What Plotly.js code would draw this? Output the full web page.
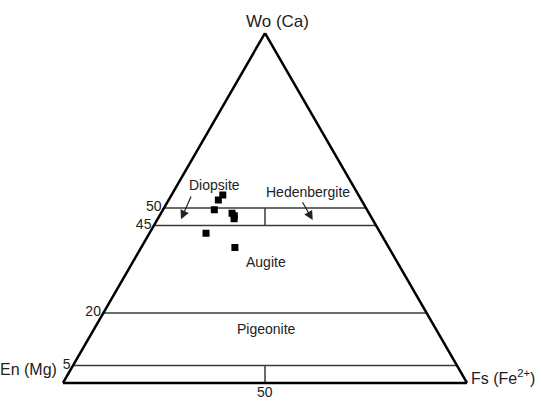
<!DOCTYPE html>
<html><head><meta charset="utf-8">
<script src="https://cdn.plot.ly/plotly-3.0.1.min.js"></script>
<style>html,body{margin:0;padding:0;background:#fff}</style>
</head><body><div id="chart" style="width:541px;height:402px"></div>
<script>
// Sample compositions (mol %)
const woValues = [53.7, 52.3, 49.5, 48.5, 47.8, 46.9, 42.8, 38.7];
const enValues = [33.6, 35.4, 37.8, 33.9, 33.7, 34.2, 43.2, 38.1];
const fsValues = [12.7, 12.3, 12.7, 17.6, 18.5, 18.9, 14.0, 23.2];
// Field boundaries (Wo %)
const boundaryWo = [50, 45, 20, 5];
const woTickVals = [5, 20, 45, 50];
const enTickLabel = "50";
const fieldNames = ["Diopsite", "Hedenbergite", "Augite", "Pigeonite"];
const cornerNames = ["Wo (Ca)", "En (Mg)", "Fs (Fe<sup>2+</sup>)"];

const W = 541, H = 402;
const px = x => x / W;
const py = y => 1 - y / H;

const lineStyle = {color: '#3a3a3a', width: 1.5};
const traces = [];
boundaryWo.forEach(w => {
  traces.push({type: 'scatterternary', mode: 'lines', a: [w, w], b: [100 - w, 0], c: [0, 100 - w],
    line: lineStyle, hoverinfo: 'skip', showlegend: false});
});
// Diopside / Hedenbergite divider (En = Fs) between Wo 45 and 50
traces.push({type: 'scatterternary', mode: 'lines', a: [50, 45], b: [25, 27.5], c: [25, 27.5],
  line: lineStyle, hoverinfo: 'skip', showlegend: false});
// bottom divider below Wo 5
traces.push({type: 'scatterternary', mode: 'lines', a: [5, 0], b: [47.5, 50], c: [47.5, 50],
  line: lineStyle, hoverinfo: 'skip', showlegend: false});
// samples
traces.push({type: 'scatterternary', mode: 'markers', a: woValues, b: enValues, c: fsValues,
  marker: {symbol: 'square', size: 7, color: '#000'}, showlegend: false});

const font = {family: 'Liberation Sans, Arial, sans-serif', color: '#222'};
const f = s => Object.assign({size: s}, font);
const axisCommon = {showgrid: false, linecolor: '#000', linewidth: 2.5, ticks: '',
  tickfont: f(14), title: {text: ''}};

const layout = {
  width: W, height: H,
  margin: {l: 0, r: 0, t: 0, b: 0},
  paper_bgcolor: '#fff',
  font: font,
  showlegend: false,
  ternary: {
    sum: 100,
    bgcolor: '#fff',
    domain: {x: [63 / W, 467 / W], y: [19 / H, 369 / H]},
    aaxis: Object.assign({}, axisCommon, {tickmode: 'array', tickvals: woTickVals, ticktext: woTickVals.map(String)}),
    baxis: Object.assign({}, axisCommon, {showticklabels: false}),
    caxis: Object.assign({}, axisCommon, {showticklabels: false})
  },
  annotations: [
    {text: cornerNames[0], x: px(277.5), y: py(33), yanchor: 'bottom', xref: 'paper', yref: 'paper', showarrow: false, font: f(17)},
    {text: cornerNames[1], x: px(59), y: py(380), xanchor: 'right', xref: 'paper', yref: 'paper', showarrow: false, font: f(16)},
    {text: cornerNames[2], x: px(469), y: py(389), xanchor: 'left', xref: 'paper', yref: 'paper', showarrow: false, font: f(16)},
    {text: enTickLabel, x: px(265), y: py(402), yanchor: 'bottom', xref: 'paper', yref: 'paper', showarrow: false, font: f(14)},
    {text: fieldNames[0], x: px(214.5), y: py(185), xref: 'paper', yref: 'paper', showarrow: false, font: f(14)},
    {text: fieldNames[1], x: px(308), y: py(192), xref: 'paper', yref: 'paper', showarrow: false, font: f(14)},
    {text: fieldNames[2], x: px(266), y: py(272), xref: 'paper', yref: 'paper', showarrow: false, font: f(14)},
    {text: fieldNames[3], x: px(266), y: py(339), xref: 'paper', yref: 'paper', showarrow: false, font: f(14)},
    {text: '', x: px(181), y: py(219.3), xref: 'paper', yref: 'paper', showarrow: true, ax: 10.7, ay: -24.3,
      arrowhead: 2, arrowsize: 1.5, arrowwidth: 1.2, arrowcolor: '#222', standoff: 0, startstandoff: 0},
    {text: '', x: px(312.7), y: py(220), xref: 'paper', yref: 'paper', showarrow: true, ax: -11, ay: -19.3,
      arrowhead: 2, arrowsize: 1.5, arrowwidth: 1.2, arrowcolor: '#222', standoff: 0, startstandoff: 0}
  ]
};

Plotly.newPlot('chart', traces, layout, {displayModeBar: false, staticPlot: true});
</script>
</body></html>
